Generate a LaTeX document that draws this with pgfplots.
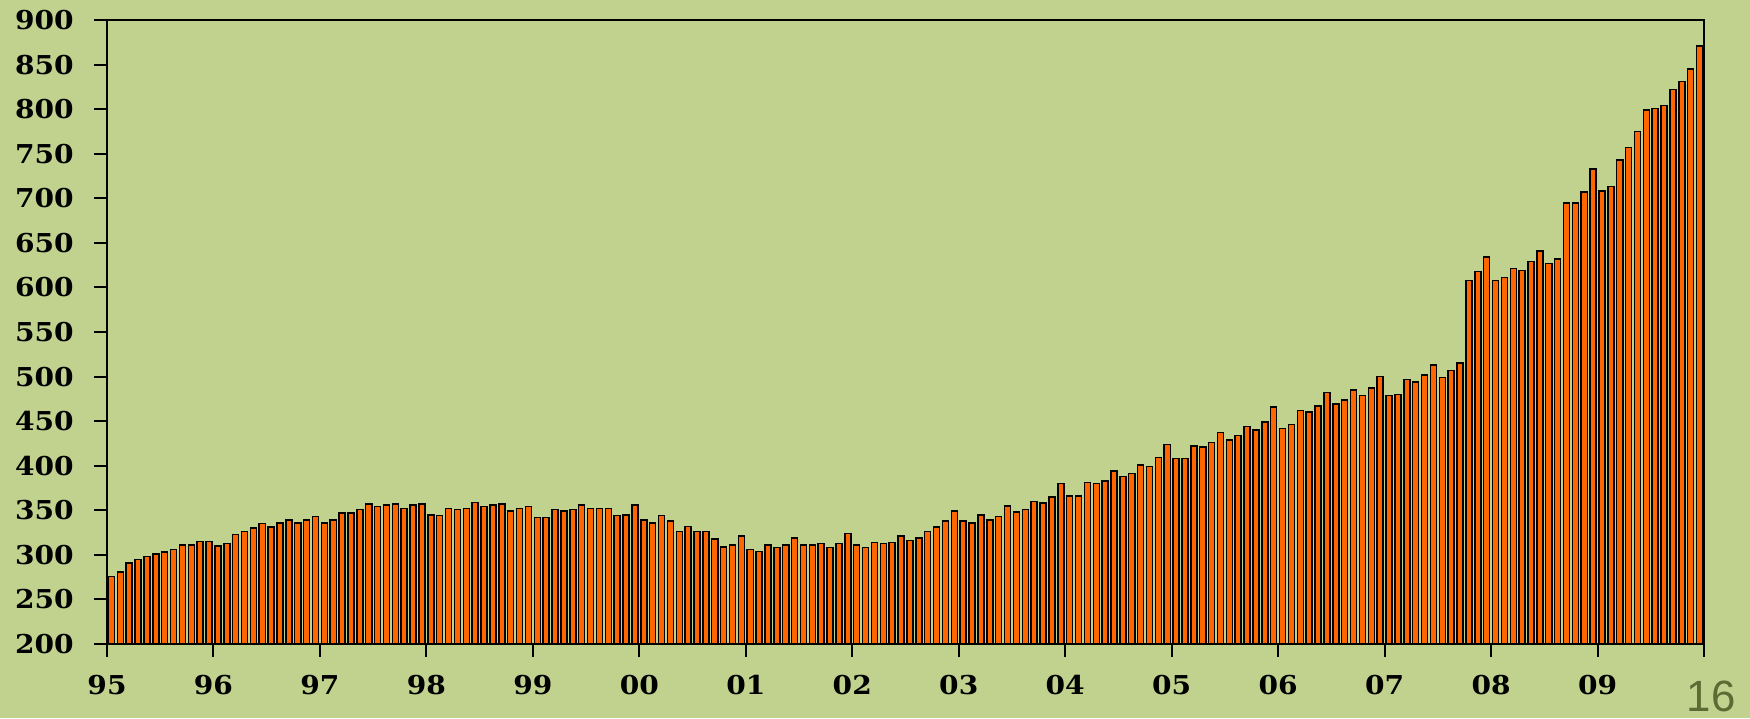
\documentclass[border=0pt]{standalone}
\usepackage{pgfplots}
\pgfplotsset{compat=1.18}
\usepackage{pgfplotstable}
\usepackage{fontspec}
\newfontfamily\tickfont[FakeStretch=1.08]{DejaVu Serif}
\newfontfamily\numfont{Liberation Sans}
\definecolor{bgcol}{RGB}{193,210,143}
\definecolor{barorange}{RGB}{255,102,0}
\definecolor{slidegray}{RGB}{92,106,52}
\pgfplotstableread{
v
276
281
291
295
298
301
303
306
311
311
315
315
310
313
323
326
330
335
331
336
339
336
339
343
336
339
347
347
351
357
354
356
357
352
356
357
345
344
352
351
352
359
354
356
357
349
352
354
342
342
351
349
351
356
352
352
352
344
345
356
339
336
344
338
326
332
326
326
318
309
311
321
306
304
311
308
311
319
311
311
313
308
313
324
311
308
314
313
314
321
316
319
326
331
338
349
338
336
345
339
343
355
348
351
360
358
365
380
366
366
381
380
383
394
388
391
401
399
409
424
408
408
422
421
426
437
429
434
444
440
449
466
442
446
462
460
467
482
469
474
485
479
487
500
479
480
497
494
502
513
499
507
515
608
618
634
608
611
621
619
629
641
627
632
695
695
707
733
708
713
743
757
775
799
801
804
822
831
845
871
}\datatable
\begin{document}
\begin{tikzpicture}[x=1pt,y=1pt]
\path[use as bounding box, fill=bgcol] (-42.8,-29.6) rectangle (657.2,257.6);
\begin{axis}[
  at={(0,0)}, anchor=south west,
  scale only axis, width=638.8pt, height=249.6pt,
  xmin=0, xmax=180, ymin=200, ymax=900,
  ytick={200,250,...,900},
  xtick={0,12,...,180},
  xticklabels={95,96,97,98,99,00,01,02,03,04,05,06,07,08,09,{}},
  tick align=outside, tick pos=left,
  major tick length=5pt,
  tick style={black, line width=0.8pt},
  axis line style={black, line width=0.8pt},
  axis on top,
  /pgf/number format/assume math mode=true,
  tick label style={font=\tickfont\bfseries\fontsize{10.4}{12}\selectfont, text=black},
  yticklabel style={xshift=-4.8pt},
  xticklabel style={yshift=-4pt},
]
\addplot[ybar, bar width=0.68, bar shift=0pt, fill=barorange, draw=black, line width=0.6pt]
  table[x expr=\coordindex+0.5, y=v] {\datatable};
\end{axis}
\node[anchor=base, inner sep=0pt, text=slidegray, font=\numfont\fontsize{17.5}{21}\selectfont] at (641.6,-26.8) {16};
\end{tikzpicture}
\end{document}
